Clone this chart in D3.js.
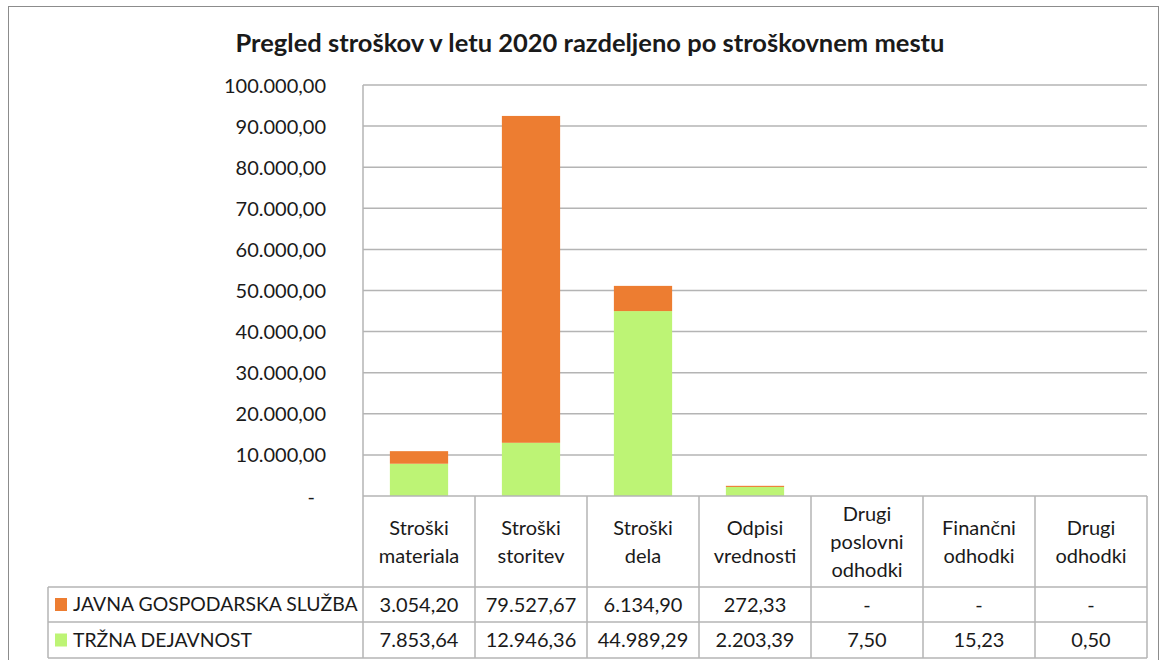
<!DOCTYPE html>
<html>
<head>
<meta charset="utf-8">
<script src="https://cdn.jsdelivr.net/npm/d3@7"></script>
<style>
  body { margin: 0; background: #fff; }
  svg text { font-family: Lato, "Open Sans", sans-serif; fill: #1a1a1a; }
</style>
</head>
<body>
<div id="chart"></div>
<script>
// podatki
const categories = ["Stroški materiala", "Stroški storitev", "Stroški dela", "Odpisi vrednosti",
                    "Drugi poslovni odhodki", "Finančni odhodki", "Drugi odhodki"];
const seriesNames = ["JAVNA GOSPODARSKA SLUŽBA", "TRŽNA DEJAVNOST"];
const javnaSluzba = [3054.20, 79527.67, 6134.90, 272.33, 0, 0, 0];
const trznaDejavnost = [7853.64, 12946.36, 44989.29, 2203.39, 7.50, 15.23, 0.50];
const yTicks = [0, 10000, 20000, 30000, 40000, 50000, 60000, 70000, 80000, 90000, 100000];
const title = "Pregled stroškov v letu 2020 razdeljeno po stroškovnem mestu";

const width = 1163, height = 660;
const colors = { jgs: "#ed7d31", td: "#bdf475" };
const gridColor = "#b4b4b4";

const sl = d3.formatLocale({ decimal: ",", thousands: ".", grouping: [3], currency: ["", ""] });
const fmt = sl.format(",.2f");
const fmtVal = v => v === 0 ? "-" : fmt(v);

const svg = d3.select("#chart").append("svg")
    .attr("width", width)
    .attr("height", height);

// okvir grafa
svg.append("rect")
    .attr("x", 8.5).attr("y", 6.5)
    .attr("width", 1150).attr("height", 660)
    .attr("fill", "#fff")
    .attr("stroke", "#8c8c8c");

svg.append("text")
    .attr("x", 590).attr("y", 52)
    .attr("text-anchor", "middle")
    .style("font-size", "25.5px")
    .style("font-weight", "bold")
    .text(title);

const plotLeft = 363, plotRight = 1147, plotTop = 85, plotBottom = 496;
const row1 = 587, row2 = 622, row3 = 658, legendLeft = 48;

const y = d3.scaleLinear().domain([0, 100000]).range([plotBottom, plotTop]);
const x = d3.scaleBand().domain(categories).range([plotLeft, plotRight])
    .paddingInner(0.48).paddingOuter(0.24);

// mreža
svg.append("g").selectAll("line")
    .data(yTicks.filter(t => t > 0))
    .join("line")
    .attr("x1", plotLeft).attr("x2", plotRight)
    .attr("y1", d => y(d)).attr("y2", d => y(d))
    .attr("stroke", gridColor).attr("stroke-width", 1.5);

// os y
const yAxis = svg.append("g")
    .attr("transform", `translate(${plotLeft},0)`)
    .call(d3.axisLeft(y).tickValues(yTicks).tickSize(0).tickPadding(37)
        .tickFormat(d => d === 0 ? "-" : fmt(d)));
yAxis.select(".domain").remove();
yAxis.selectAll("text")
    .style("font-size", "20px")
    .attr("dy", "0.35em")
    .attr("dx", d => d === 0 ? -11 : 0);

// stolpci
const rows = categories.map((c, i) => ({ cat: c, td: trznaDejavnost[i], jgs: javnaSluzba[i] }));
const stacked = d3.stack().keys(["td", "jgs"])(rows);

svg.append("g").selectAll("g")
    .data(stacked)
    .join("g")
    .attr("fill", d => colors[d.key])
    .selectAll("rect")
    .data(d => d)
    .join("rect")
    .attr("x", d => x(d.data.cat))
    .attr("width", x.bandwidth())
    .attr("y", d => y(d[1]))
    .attr("height", d => y(d[0]) - y(d[1]));

// tabela podatkov
const table = svg.append("g").attr("stroke", gridColor).attr("stroke-width", 1.5);
table.append("line").attr("x1", plotLeft).attr("x2", plotRight).attr("y1", plotBottom).attr("y2", plotBottom);
[row1, row2, row3].forEach(yy => {
  table.append("line").attr("x1", legendLeft).attr("x2", plotRight).attr("y1", yy).attr("y2", yy);
});
table.append("line").attr("x1", legendLeft).attr("x2", legendLeft).attr("y1", row1).attr("y2", row3);
table.append("line").attr("x1", plotLeft).attr("x2", plotLeft).attr("y1", plotTop).attr("y2", row3);
const step = x.step();
categories.forEach((c, i) => {
  const xx = plotLeft + step * (i + 1);
  table.append("line").attr("x1", xx).attr("x2", xx).attr("y1", plotBottom).attr("y2", row3);
});

// glave stolpcev
const lineH = 28;
categories.forEach(c => {
  const words = c.split(" ");
  const cx = x(c) + x.bandwidth() / 2;
  const cy = (plotBottom + row1) / 2 - (words.length - 1) * lineH / 2;
  const t = svg.append("text")
      .attr("text-anchor", "middle")
      .style("font-size", "20px");
  words.forEach((w, k) => {
    t.append("tspan").attr("x", cx).attr("y", cy + k * lineH).attr("dy", "0.35em").text(w);
  });
});

// vrstice z vrednostmi
const tableRows = [
  { name: seriesNames[0], values: javnaSluzba, color: colors.jgs, top: row1, bottom: row2 },
  { name: seriesNames[1], values: trznaDejavnost, color: colors.td, top: row2, bottom: row3 }
];
tableRows.forEach(r => {
  const cy = (r.top + r.bottom) / 2;
  svg.append("rect")
      .attr("x", 55).attr("y", cy - 6.5)
      .attr("width", 12).attr("height", 13)
      .attr("fill", r.color);
  svg.append("text")
      .attr("x", 73).attr("y", cy).attr("dy", "0.35em")
      .style("font-size", "19.4px")
      .text(r.name);
  r.values.forEach((v, i) => {
    svg.append("text")
        .attr("x", x(categories[i]) + x.bandwidth() / 2)
        .attr("y", cy).attr("dy", "0.35em")
        .attr("text-anchor", "middle")
        .style("font-size", "20px")
        .text(fmtVal(v));
  });
});
</script>
</body>
</html>
